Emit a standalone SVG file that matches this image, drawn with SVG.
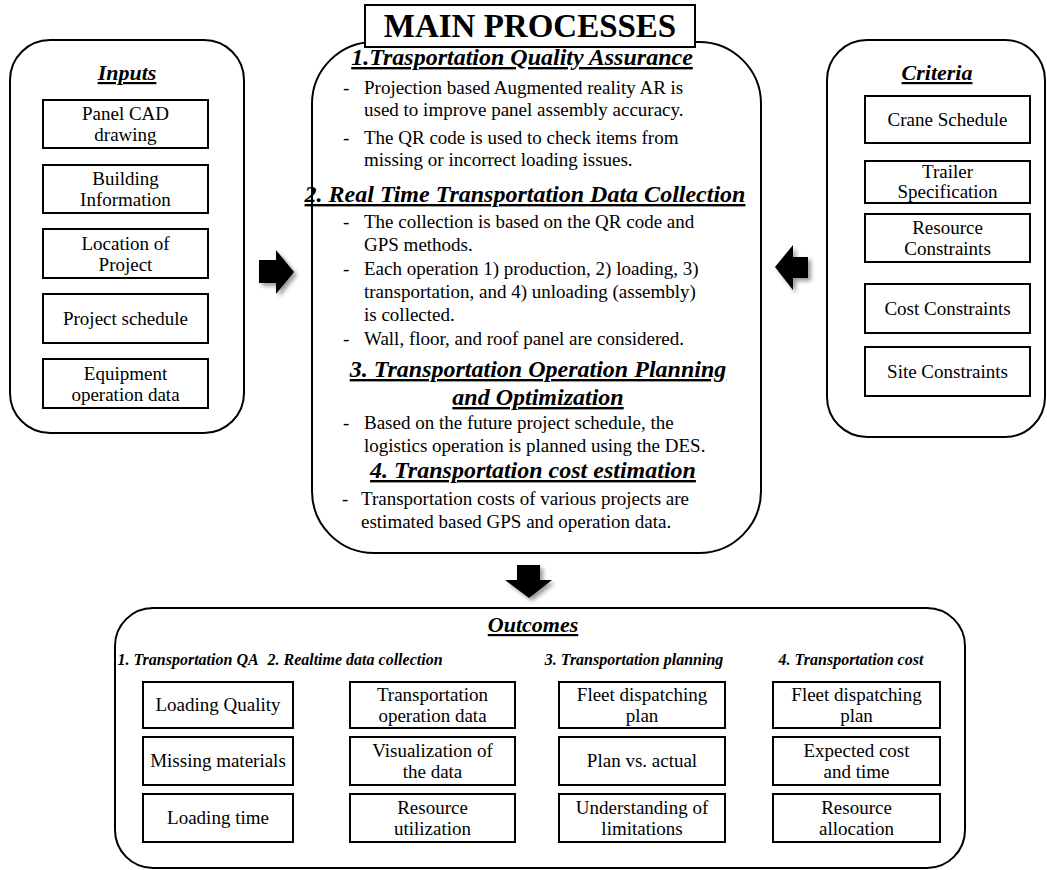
<svg xmlns="http://www.w3.org/2000/svg" width="1047" height="870" viewBox="0 0 1047 870" font-family="Liberation Serif, Tinos, Times New Roman, DejaVu Serif, serif">
<defs>
<style>
text{font-family:'Liberation Serif','Tinos','Times New Roman','DejaVu Serif',serif;fill:#000}
.t{font-size:19px}
.c{text-anchor:middle}
.h{font-size:24px;font-weight:bold;font-style:italic;text-decoration:underline;text-anchor:middle}
.ct{font-size:22px;font-weight:bold;font-style:italic;text-decoration:underline;text-anchor:middle}
.sh{font-size:16px;font-weight:bold;font-style:italic;text-anchor:middle}
.bx{fill:#fff;stroke:#000;stroke-width:2}
.cn{fill:#fff;stroke:#000;stroke-width:2}
.ar{fill:#000;filter:url(#shadow)}
</style>
<filter id="shadow" x="-50%" y="-50%" width="200%" height="200%">
<feDropShadow dx="3" dy="3" stdDeviation="2" flood-color="#000" flood-opacity="0.4"/>
</filter>
</defs>
<rect width="1047" height="870" fill="#fff"/>

<g id="inputs">
<rect class="cn" x="10" y="40" width="234" height="393" rx="40"/>
<text class="ct" x="127" y="80">Inputs</text>
<rect class="bx" x="43" y="100" width="165" height="48"/>
<text class="t c" x="125.5" y="120">Panel CAD</text>
<text class="t c" x="125.5" y="141">drawing</text>
<rect class="bx" x="43" y="165" width="165" height="48"/>
<text class="t c" x="125.5" y="185">Building</text>
<text class="t c" x="125.5" y="206">Information</text>
<rect class="bx" x="43" y="229" width="165" height="49"/>
<text class="t c" x="125.5" y="250">Location of</text>
<text class="t c" x="125.5" y="271">Project</text>
<rect class="bx" x="43" y="294" width="165" height="49"/>
<text class="t c" x="125.5" y="325">Project schedule</text>
<rect class="bx" x="43" y="359" width="165" height="49"/>
<text class="t c" x="125.5" y="380">Equipment</text>
<text class="t c" x="125.5" y="401">operation data</text>
</g>

<g id="criteria">
<rect class="cn" x="827" y="40" width="218" height="397" rx="40"/>
<text class="ct" x="937" y="80">Criteria</text>
<rect class="bx" x="865" y="96" width="165" height="47"/>
<text class="t c" x="947.5" y="126">Crane Schedule</text>
<rect class="bx" x="865" y="161" width="165" height="42"/>
<text class="t c" x="947.5" y="178">Trailer</text>
<text class="t c" x="947.5" y="198">Specification</text>
<rect class="bx" x="865" y="214" width="165" height="48"/>
<text class="t c" x="947.5" y="234">Resource</text>
<text class="t c" x="947.5" y="255">Constraints</text>
<rect class="bx" x="865" y="284" width="165" height="49"/>
<text class="t c" x="947.5" y="315">Cost Constraints</text>
<rect class="bx" x="865" y="347" width="165" height="49"/>
<text class="t c" x="947.5" y="378">Site Constraints</text>
</g>

<g id="main">
<rect class="cn" x="312" y="42" width="449" height="511" rx="62"/>
<rect class="bx" x="365" y="5" width="330" height="42"/>
<text x="530" y="37" font-size="33" font-weight="bold" text-anchor="middle">MAIN PROCESSES</text>
<text class="h" x="522" y="65">1.Trasportation Quality Assurance</text>
<text class="t" x="343" y="94">-</text><text class="t" x="364" y="94">Projection based Augmented reality AR is</text>
<text class="t" x="364" y="116">used to improve panel assembly accuracy.</text>
<text class="t" x="343" y="144">-</text><text class="t" x="364" y="144">The QR code is used to check items from</text>
<text class="t" x="364" y="166">missing or incorrect loading issues.</text>
<text class="h" x="525" y="202">2. Real Time Transportation Data Collection</text>
<text class="t" x="343" y="228">-</text><text class="t" x="364" y="228">The collection is based on the QR code and</text>
<text class="t" x="364" y="251">GPS methods.</text>
<text class="t" x="343" y="275">-</text><text class="t" x="364" y="275">Each operation 1) production, 2) loading, 3)</text>
<text class="t" x="364" y="298">transportation, and 4) unloading (assembly)</text>
<text class="t" x="364" y="321">is collected.</text>
<text class="t" x="343" y="345">-</text><text class="t" x="364" y="345">Wall, floor, and roof panel are considered.</text>
<text class="h" x="538" y="377">3. Transportation Operation Planning</text>
<text class="h" x="538" y="405">and Optimization</text>
<text class="t" x="343" y="429">-</text><text class="t" x="364" y="429">Based on the future project schedule, the</text>
<text class="t" x="364" y="452">logistics operation is planned using the DES.</text>
<text class="h" x="533" y="478">4. Transportation cost estimation</text>
<text class="t" x="342" y="505">-</text><text class="t" x="361" y="505">Transportation costs of various projects are</text>
<text class="t" x="361" y="528">estimated based GPS and operation data.</text>
</g>

<g id="connectors">
<polygon class="ar" points="259,260 276,260 276,250 294,272 276,294 276,283 259,283"/>
<polygon class="ar" points="775,267 793,245 793,257 808,257 808,278 793,278 793,290"/>
<polygon class="ar" points="517,565 540,565 540,580 552,580 529,598 505,580 517,580"/>
</g>

<g id="outcomes">
<rect class="cn" x="115" y="608" width="850" height="260" rx="38"/>
<text class="ct" x="533" y="632">Outcomes</text>
<text class="sh" x="188" y="665">1. Transportation QA</text>
<text class="sh" x="355" y="665">2. Realtime data collection</text>
<text class="sh" x="634" y="665">3. Transportation planning</text>
<text class="sh" x="851" y="665">4. Transportation cost</text>

<rect class="bx" x="143" y="682" width="150" height="46"/>
<text class="t c" x="218" y="711">Loading Quality</text>
<rect class="bx" x="143" y="737" width="150" height="48"/>
<text class="t c" x="218" y="767">Missing materials</text>
<rect class="bx" x="143" y="794" width="150" height="48"/>
<text class="t c" x="218" y="824">Loading time</text>

<rect class="bx" x="350" y="682" width="165" height="46"/>
<text class="t c" x="432.5" y="701">Transportation</text>
<text class="t c" x="432.5" y="722">operation data</text>
<rect class="bx" x="350" y="737" width="165" height="48"/>
<text class="t c" x="432.5" y="757">Visualization of</text>
<text class="t c" x="432.5" y="778">the data</text>
<rect class="bx" x="350" y="794" width="165" height="48"/>
<text class="t c" x="432.5" y="814">Resource</text>
<text class="t c" x="432.5" y="835">utilization</text>

<rect class="bx" x="559" y="682" width="166" height="46"/>
<text class="t c" x="642" y="701">Fleet dispatching</text>
<text class="t c" x="642" y="722">plan</text>
<rect class="bx" x="559" y="737" width="166" height="48"/>
<text class="t c" x="642" y="767">Plan vs. actual</text>
<rect class="bx" x="559" y="794" width="166" height="48"/>
<text class="t c" x="642" y="814">Understanding of</text>
<text class="t c" x="642" y="835">limitations</text>

<rect class="bx" x="773" y="682" width="167" height="46"/>
<text class="t c" x="856.5" y="701">Fleet dispatching</text>
<text class="t c" x="856.5" y="722">plan</text>
<rect class="bx" x="773" y="737" width="167" height="48"/>
<text class="t c" x="856.5" y="757">Expected cost</text>
<text class="t c" x="856.5" y="778">and time</text>
<rect class="bx" x="773" y="794" width="167" height="48"/>
<text class="t c" x="856.5" y="814">Resource</text>
<text class="t c" x="856.5" y="835">allocation</text>
</g>
</svg>
